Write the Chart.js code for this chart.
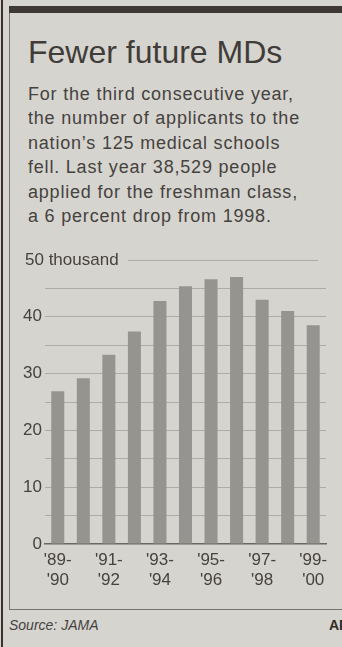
<!DOCTYPE html>
<html>
<head>
<meta charset="utf-8">
<script src="https://cdn.jsdelivr.net/npm/chart.js@4.4.1/dist/chart.umd.min.js"></script>
<style>
  html, body { margin: 0; padding: 0; }
  body {
    width: 342px; height: 647px; overflow: hidden; position: relative;
    background: #d6d4ce; color: #45423f;
    font-family: "Liberation Sans", Arial, sans-serif;
  }
  .edge { position: absolute; left: 1px; top: 0; width: 2px; height: 647px; background: #3b302a; }
  .box { position: absolute; left: 9px; top: 6px; right: -2px; height: 603px;
         border-left: 1px solid #77736e; border-bottom: 1px solid #77736e; }
  .bar { position: absolute; left: 9px; right: 0; top: 6px; height: 7px; background: #3d3833; }
  h1 { position: absolute; left: 28px; top: 36px; margin: 0; font-size: 32px; line-height: 32px;
       font-weight: normal; color: #3f3c39; white-space: nowrap; }
  .dek { position: absolute; left: 28px; top: 82px; margin: 0; font-size: 18px; line-height: 24.4px;
         letter-spacing: 0.8px; white-space: nowrap; }
  #wrap { position: absolute; left: 0; top: 240px; width: 342px; height: 360px; }
  .source { position: absolute; left: 9px; top: 617px; font-size: 14px; font-style: italic; }
  .credit { position: absolute; left: 329px; top: 617px; font-size: 14px; font-weight: bold; color: #2e2b29; }
</style>
</head>
<body>
<div class="edge"></div>
<div class="box"></div>
<div class="bar"></div>
<h1>Fewer future MDs</h1>
<p class="dek">For the third consecutive year,<br>the number of applicants to the<br>nation’s 125 medical schools<br>fell. Last year 38,529 people<br>applied for the freshman class,<br>a 6 percent drop from 1998.</p>
<div id="wrap"><canvas id="chart"></canvas></div>
<div class="source">Source: JAMA</div>
<div class="credit">AP</div>

<script>
// applicants, thousands, by school year
const seasons = ["'89-'90", "'90-'91", "'91-'92", "'92-'93", "'93-'94", "'94-'95",
                 "'95-'96", "'96-'97", "'97-'98", "'98-'99", "'99-'00"];
const applicants = [26.9, 29.2, 33.3, 37.4, 42.8, 45.4, 46.6, 47.0, 43.0, 41.0, 38.5];
// only every other season gets a label, on two lines
const xTickLabels = [["'89-", "'90"], "", ["'91-", "'92"], "", ["'93-", "'94"], "",
                     ["'95-", "'96"], "", ["'97-", "'98"], "", ["'99-", "'00"]];
const yTickValues = [0, 10, 20, 30, 40];
const topLabel = '50 thousand';

const inkColor = '#45423f';
const gridColor = '#aeaca7';
const labelFont = { family: '"Liberation Sans", Arial, sans-serif', size: 17 };

// "50 thousand" sits on the top rule, which starts after the text
const topRulePlugin = {
  id: 'topRule',
  afterDraw(chart) {
    const { ctx, chartArea } = chart;
    const y = chart.scales.y.getPixelForValue(50);
    ctx.save();
    ctx.font = `${labelFont.size}px ${labelFont.family}`;
    ctx.fillStyle = inkColor;
    ctx.textAlign = 'left';
    ctx.textBaseline = 'middle';
    ctx.fillText(topLabel, 25, y);
    ctx.strokeStyle = gridColor;
    ctx.lineWidth = 1;
    ctx.beginPath();
    ctx.moveTo(128, Math.round(y) + 0.5);
    ctx.lineTo(chartArea.right - 8, Math.round(y) + 0.5);
    ctx.stroke();
    ctx.restore();
  }
};

new Chart(document.getElementById('chart'), {
  type: 'bar',
  data: {
    labels: seasons,
    datasets: [{
      data: applicants,
      backgroundColor: '#959490',
      barPercentage: 0.51,
      categoryPercentage: 1.0,
    }],
  },
  options: {
    responsive: true,
    maintainAspectRatio: false,
    animation: false,
    layout: { padding: { top: 20, right: 16, left: 0, bottom: 0 } },
    plugins: {
      legend: { display: false },
      tooltip: { enabled: false },
    },
    scales: {
      x: {
        grid: { display: false, drawTicks: false },
        border: { display: true, color: '#6a6763', width: 1.5 },
        ticks: {
          autoSkip: false,
          maxRotation: 0,
          padding: 6,
          color: inkColor,
          font: { ...labelFont, lineHeight: 1.2 },
          callback: (value, index) => xTickLabels[index],
        },
        afterFit: (scale) => { scale.height = 56; },
      },
      y: {
        min: 0,
        max: 50,
        border: { display: false },
        grid: {
          drawTicks: false,
          lineWidth: 1,
          color: (ctx) => (ctx.tick.value === 0 || ctx.tick.value === 50) ? 'rgba(0,0,0,0)' : gridColor,
        },
        ticks: {
          stepSize: 5,
          padding: 3,
          color: inkColor,
          font: labelFont,
          callback: (value) => yTickValues.includes(value) ? value : '',
        },
        afterFit: (scale) => { scale.width = 45; },
      },
    },
  },
  plugins: [topRulePlugin],
});
</script>
</body>
</html>
